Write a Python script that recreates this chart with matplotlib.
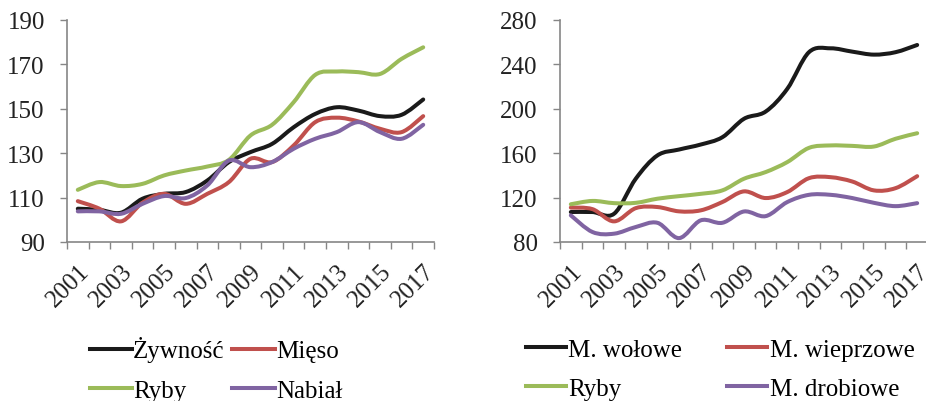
import numpy as np
import matplotlib
matplotlib.use("Agg")
import matplotlib.pyplot as plt
import matplotlib.transforms as mtransforms
from matplotlib.path import Path
from matplotlib.patches import PathPatch
from matplotlib.lines import Line2D

plt.rcParams['font.family'] = ['Liberation Serif', 'DejaVu Serif']

years = list(range(2001, 2018))
year_labels = [str(y) if (y - 2001) % 2 == 0 else '' for y in years]

# left panel: price indices of food groups
zywnosc = [105, 104.5, 103.2, 109.5, 111.7, 112.5, 117.7, 126, 130.5, 134.2,
           141.7, 147.7, 150.7, 149.2, 146.7, 147.3, 154.2]
mieso = [108.4, 105, 99.3, 107.7, 111.7, 107.2, 111.7, 117, 127.5, 126,
         133.5, 144, 146, 144.3, 141, 139.5, 146.7]
ryby = [113.5, 117, 115.2, 116.2, 120, 122.2, 124, 127, 138, 142.8,
        153, 165.3, 166.8, 166.5, 165.7, 172.5, 177.7]
nabial = [103.8, 103.8, 102.7, 107.2, 110.7, 109.8, 115.5, 126.7, 123.7, 126,
          132, 136.5, 139.5, 144, 139.5, 136.5, 142.8]

# right panel: meat types
m_wolowe = [107, 107, 105.5, 137, 158, 163.3, 167.8, 174.4, 191, 197.5,
            218, 251, 254.5, 251.5, 248.8, 251, 257.5]
m_wieprzowe = [111, 109.6, 98.6, 110.5, 111.5, 107.6, 108.5, 116, 125.6, 119.6,
               125, 137.5, 138.4, 134.5, 126.5, 128.5, 139.3]
ryby2 = [114, 117, 115, 115.3, 119, 121.3, 123.4, 126.5, 137, 143,
         152, 164.8, 167, 166.6, 166, 173, 178]
m_drobiowe = [104, 89, 87.5, 93.5, 97.3, 83.5, 99.5, 97.3, 107.5, 103.3,
              116, 122.5, 122.5, 119.6, 115.3, 112.3, 115]

BLACK = '#1a1a1a'
RED = '#c0504d'
GREEN = '#9bbb59'
PURPLE = '#8064a2'
GRID = '#868686'


def smooth_path(x, y):
    # cubic bezier through the points (Catmull-Rom style, like Excel's smoothed lines)
    n = len(x)
    verts = [(x[0], y[0])]
    codes = [Path.MOVETO]
    for i in range(n - 1):
        xp, yp = (x[i - 1], y[i - 1]) if i > 0 else (x[i], y[i])
        xn, yn = (x[i + 2], y[i + 2]) if i + 2 < n else (x[i + 1], y[i + 1])
        c1 = (x[i] + (x[i + 1] - xp) / 6, y[i] + (y[i + 1] - yp) / 6)
        c2 = (x[i + 1] - (xn - x[i]) / 6, y[i + 1] - (yn - y[i]) / 6)
        verts += [c1, c2, (x[i + 1], y[i + 1])]
        codes += [Path.CURVE4] * 3
    return Path(verts, codes)


def draw_panel(ax, series, ylim, ystep, label_shift):
    x = np.arange(len(years))
    for vals, col in series:
        ax.add_patch(PathPatch(smooth_path(x, vals), fill=False, edgecolor=col,
                               lw=2.9, capstyle='round', joinstyle='round'))
    ax.set_xlim(-0.5, len(years) - 0.5)
    ax.set_ylim(*ylim)
    ax.set_yticks(np.arange(ylim[0], ylim[1] + 1, ystep))
    ax.set_xticks(x)
    ax.set_xticklabels(year_labels, rotation=45, ha='right', va='top',
                       rotation_mode='anchor')
    shift = mtransforms.ScaledTranslation(label_shift / 100, 0, fig.dpi_scale_trans)
    for lab in ax.get_xticklabels():
        lab.set_transform(lab.get_transform() + shift)
    ax.set_xticks(np.arange(-0.5, len(years)), minor=True)
    ax.tick_params(axis='x', which='major', length=0, pad=13, labelsize=18,
                   labelcolor='#222222')
    ax.tick_params(axis='x', which='minor', length=5, width=1, color=GRID,
                   direction='out')
    ax.tick_params(axis='y', length=5, width=1, color=GRID, pad=11,
                   labelsize=18, labelcolor='#222222')
    for s in ['top', 'right']:
        ax.spines[s].set_visible(False)
    for s in ['left', 'bottom']:
        ax.spines[s].set_color(GRID)
        ax.spines[s].set_linewidth(1.2)


fig = plt.figure(figsize=(9.26, 4.02), dpi=100)
ax1 = fig.add_axes([67 / 926, 1 - 243 / 402, 367 / 926, 222 / 402])
ax2 = fig.add_axes([560 / 926, 1 - 243 / 402, 368 / 926, 222 / 402])

draw_panel(ax1, [(zywnosc, BLACK), (mieso, RED), (ryby, GREEN), (nabial, PURPLE)],
           (90, 190), 20, 3)
draw_panel(ax2, [(m_wolowe, BLACK), (m_wieprzowe, RED), (ryby2, GREEN),
                 (m_drobiowe, PURPLE)], (80, 280), 40, 0)


def legend_handle(col):
    return Line2D([], [], color=col, lw=2.9)


fig.legend([legend_handle(BLACK), legend_handle(GREEN),
            legend_handle(RED), legend_handle(PURPLE)],
           ['Żywność', 'Ryby', 'Mięso', 'Nabiał'],
           ncol=2, loc='center left', bbox_to_anchor=(77 / 926, 1 - 370 / 402),
           frameon=False, fontsize=18, handlelength=1.7, handletextpad=0.05,
           columnspacing=0.3, labelspacing=0.67, borderpad=0)

fig.legend([legend_handle(BLACK), legend_handle(GREEN),
            legend_handle(RED), legend_handle(PURPLE)],
           ['M. wołowe', 'Ryby', 'M. wieprzowe', 'M. drobiowe'],
           ncol=2, loc='center left', bbox_to_anchor=(513 / 926, 1 - 370 / 402),
           frameon=False, fontsize=18, handlelength=1.6, handletextpad=0.1,
           columnspacing=1.8, labelspacing=0.67, borderpad=0)

fig.savefig('out.png', dpi=100)
